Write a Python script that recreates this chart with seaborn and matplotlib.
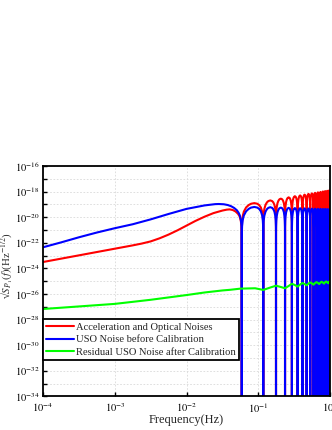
import numpy as np
import pandas as pd
import matplotlib
matplotlib.use("Agg")
import matplotlib.pyplot as plt
import seaborn as sns
from matplotlib.lines import Line2D
from matplotlib.ticker import FixedLocator, FuncFormatter, NullLocator

# Series names / colours (legend order)
SERIES = ["Acceleration and Optical Noises",
          "USO Noise before Calibration",
          "Residual USO Noise after Calibration"]
COLORS = ["#ff0000", "#0000ff", "#00ff00"]

# Smooth low-frequency part (Hz, log10 of ASD)
RED_LOW_F = [1e-4, 1.78e-4, 3.16e-4, 5.6e-4, 1e-3, 1.78e-3, 2.37e-3, 3.16e-3,
             4.2e-3, 5.6e-3, 7.5e-3, 1e-2, 1.33e-2, 1.78e-2, 2.37e-2, 3.16e-2,
             3.63e-2, 3.98e-2, 4.4e-2, 4.8e-2, 5.2e-2, 5.5e-2, 5.7e-2, 5.8e-2, 5.84e-2]
RED_LOW_LOG = [-23.5, -23.24, -22.98, -22.72, -22.46, -22.2, -22.06, -21.89,
               -21.65, -21.36, -21.02, -20.65, -20.29, -19.96, -19.68, -19.48,
               -19.41, -19.39, -19.44, -19.55, -19.73, -19.95, -20.3, -20.7, -21.1]

BLUE_LOW_F = [1e-4, 1.78e-4, 3.16e-4, 5.6e-4, 1e-3, 1.78e-3, 3.16e-3, 5.6e-3,
              1e-2, 1.78e-2, 2.5e-2, 2.8e-2, 3.3e-2, 3.75e-2, 4.2e-2, 4.6e-2,
              5.0e-2, 5.3e-2, 5.5e-2, 5.7e-2, 5.8e-2, 5.84e-2]
BLUE_LOW_LOG = [-22.35, -21.97, -21.57, -21.2, -20.86, -20.55, -20.17, -19.75,
                -19.35, -19.08, -18.98, -18.97, -18.99, -19.05, -19.15, -19.28,
                -19.45, -19.65, -19.85, -20.2, -20.6, -21.0]

# High-frequency lobes: null positions and lobe peak heights
NULL_FREQ = [0.0587, 0.117, 0.176, 0.235, 0.293, 0.352, 0.411, 0.470, 0.528,
             0.587, 0.646, 0.704, 0.763, 0.822, 0.880, 0.939, 0.998, 1.057]
RED_PEAK_LOG = [-18.90, -18.69, -18.55, -18.45, -18.36, -18.30, -18.24, -18.18,
                -18.14, -18.10, -18.06, -18.03, -17.99, -17.96, -17.94, -17.91, -17.89]
BLUE_PEAK_LOG = [-19.20, -19.22, -19.25, -19.27, -19.29, -19.30, -19.31, -19.32,
                 -19.33, -19.34, -19.35, -19.35, -19.36, -19.36, -19.37, -19.37, -19.38]
NULL_LOG = -36.0
# shape of one lobe (fraction of lobe width, drop below lobe peak in decades)
LOBE_FRAC = [0.003, 0.01, 0.03, 0.07, 0.15, 0.25, 0.35, 0.5,
             0.65, 0.75, 0.85, 0.93, 0.97, 0.99, 0.997]
LOBE_DROP = [-2.0, -1.5, -1.03, -0.66, -0.34, -0.15, -0.05, 0.0,
             -0.05, -0.15, -0.34, -0.66, -1.03, -1.5, -2.0]

# Residual USO noise (green)
GREEN_F = [1e-4, 3.16e-4, 1e-3, 3.16e-3, 1e-2, 1.78e-2, 3.16e-2, 4.04e-2, 5.6e-2,
           0.09, 0.117, 0.145, 0.176, 0.205, 0.235, 0.264, 0.293, 0.323, 0.352,
           0.381, 0.411, 0.44, 0.47, 0.5, 0.528, 0.558, 0.587, 0.616, 0.646,
           0.675, 0.704, 0.734, 0.763, 0.792, 0.822, 0.851, 0.88, 0.91, 0.939,
           0.968, 1.0]
GREEN_LOG = [-27.17, -26.97, -26.77, -26.45, -26.08, -25.88, -25.72, -25.67, -25.58,
             -25.55, -25.68, -25.5, -25.35, -25.45, -25.55, -25.37, -25.2, -25.3,
             -25.42, -25.26, -25.14, -25.22, -25.32, -25.18, -25.1, -25.17, -25.27,
             -25.14, -25.07, -25.14, -25.22, -25.1, -25.04, -25.11, -25.19, -25.07,
             -25.02, -25.08, -25.16, -25.05, -25.0]

Y_TICK_EXP = list(range(-34, -15))
X_TICK_EXP = [-4, -3, -2, -1, 0]


def lobe_curve(low_f, low_log, peaks):
    f = list(low_f)
    v = list(low_log)
    for k in range(len(NULL_FREQ) - 1):
        a, b = NULL_FREQ[k], NULL_FREQ[k + 1]
        f.append(a)
        v.append(NULL_LOG)
        for fr, d in zip(LOBE_FRAC, LOBE_DROP):
            f.append(a + fr * (b - a))
            v.append(peaks[k] + d)
    return np.array(f), 10.0 ** np.array(v)


red_f, red_v = lobe_curve(RED_LOW_F, RED_LOW_LOG, RED_PEAK_LOG)
blue_f, blue_v = lobe_curve(BLUE_LOW_F, BLUE_LOW_LOG, BLUE_PEAK_LOG)
green_f, green_v = np.array(GREEN_F), 10.0 ** np.array(GREEN_LOG)

frames = []
for name, f, v in zip(SERIES, [red_f, blue_f, green_f], [red_v, blue_v, green_v]):
    frames.append(pd.DataFrame({"freq": f, "asd": v, "series": name}))
df = pd.concat(frames, ignore_index=True)

sns.set_style("ticks")
plt.rcParams["font.family"] = ["Liberation Serif", "DejaVu Serif"]
plt.rcParams["mathtext.fontset"] = "stix"

fig = plt.figure(figsize=(3.32, 4.30), dpi=100)
ax = fig.add_axes([0.1295, 0.078, 0.865, 0.536])

sns.lineplot(data=df, x="freq", y="asd", hue="series", hue_order=SERIES,
             palette=dict(zip(SERIES, COLORS)), estimator=None, sort=False,
             linewidth=1.5, legend=False, ax=ax)

ax.set_xscale("log")
ax.set_yscale("log")
ax.set_xlim(1e-4, 1e0)
ax.set_ylim(1e-34, 1e-16)

ax.yaxis.set_major_locator(FixedLocator([10.0 ** e for e in Y_TICK_EXP]))
ax.yaxis.set_major_formatter(FuncFormatter(
    lambda v, pos: f"$10^{{{int(round(np.log10(v)))}}}$" if int(round(np.log10(v))) % 2 == 0 else ""))
ax.yaxis.set_minor_locator(NullLocator())
ax.xaxis.set_major_locator(FixedLocator([10.0 ** e for e in X_TICK_EXP]))
ax.xaxis.set_major_formatter(FuncFormatter(lambda v, pos: f"$10^{{{int(round(np.log10(v)))}}}$"))
ax.xaxis.set_minor_locator(NullLocator())

ax.tick_params(direction="in", length=3, width=1.0, labelsize=7.5, pad=2.5, colors="black")
ax.tick_params(axis="x", pad=3.5)
ax.grid(True, which="major", linestyle=(0, (2, 2)), color="#d9d9d9", linewidth=0.6)
ax.set_axisbelow(True)
for s in ax.spines.values():
    s.set_visible(True)
    s.set_linewidth(1.3)
    s.set_color("black")

ax.set_xlabel("Frequency(Hz)", fontsize=9)
ax.set_ylabel("\u221a" + r"$S_{P_1}(f)$(Hz$^{-1/2}$)", fontsize=7.8)
ax.xaxis.set_label_coords(0.5, -0.075)
ax.yaxis.set_label_coords(-0.097, 0.566)

handles = [Line2D([], [], color=c, linewidth=1.5) for c in COLORS]
leg = ax.legend(handles, SERIES, loc="upper left", bbox_to_anchor=(0.0, 0.335),
                borderaxespad=0.0, fontsize=7.6, frameon=True, fancybox=False,
                framealpha=1.0, edgecolor="black", handlelength=2.6,
                handletextpad=0.2, labelspacing=0.3, borderpad=0.3)
leg.get_frame().set_linewidth(1.3)

fig.savefig("out.png", dpi=100)
